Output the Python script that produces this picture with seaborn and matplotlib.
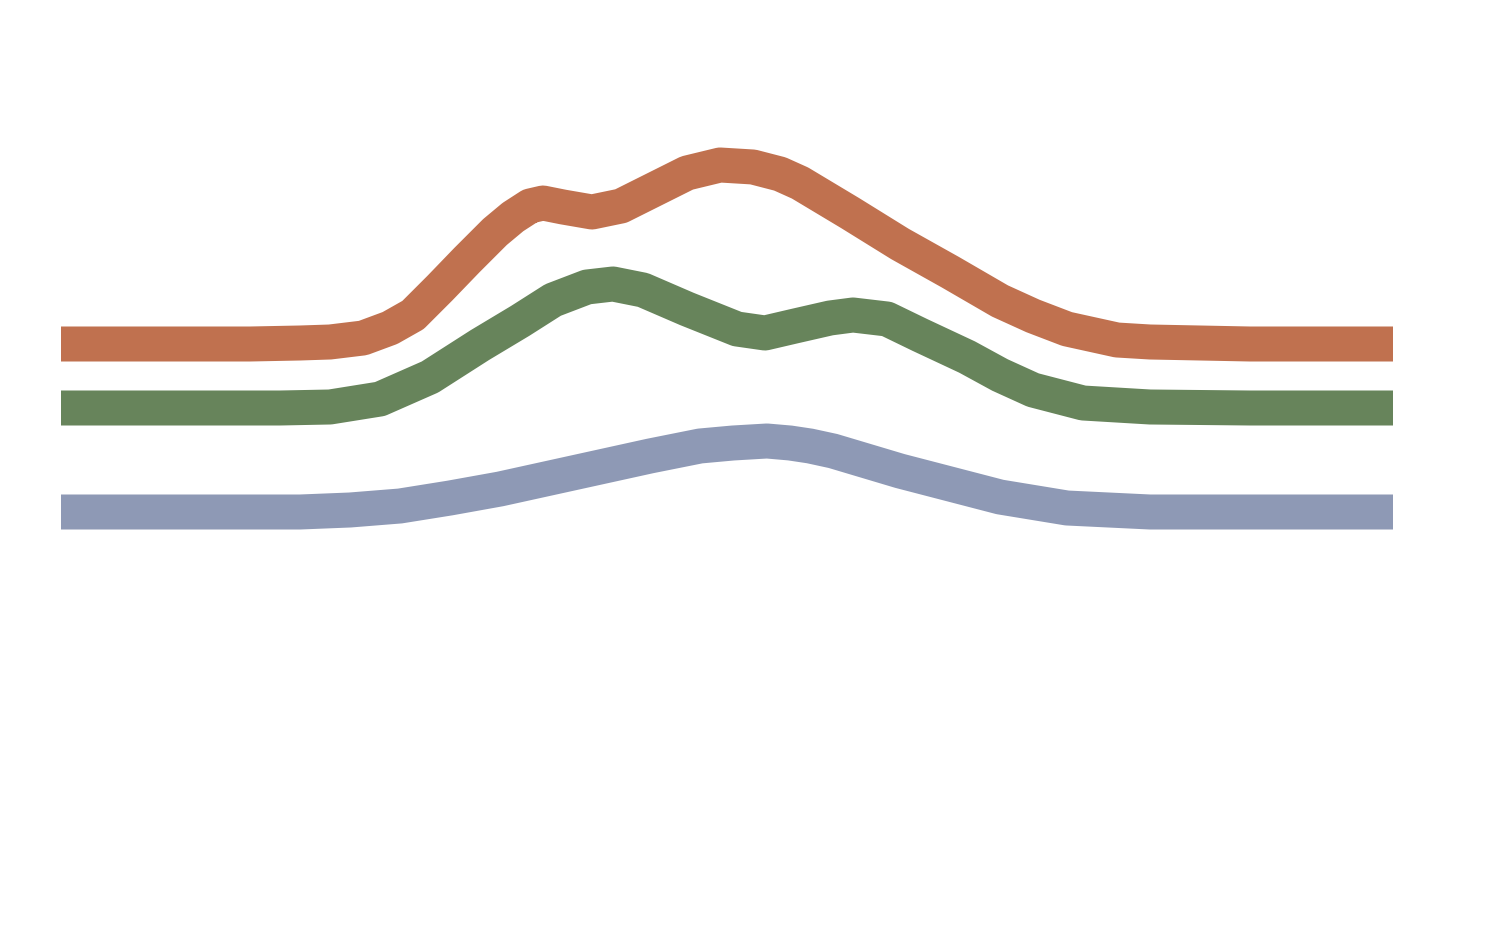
import numpy as np
import pandas as pd
import matplotlib
matplotlib.use('Agg')
import matplotlib.pyplot as plt
import seaborn as sns

# ==============================================
# DATA (x = step, y = level)
# ==============================================

orange_x = [61, 150, 250, 300, 330, 363, 390, 413, 440, 467, 495, 513, 530, 543, 563,
            592, 621, 653, 687, 720, 753, 780, 800, 850, 900, 950, 1000, 1033, 1067,
            1117, 1150, 1250, 1393]
orange_y = [344, 344, 344, 343, 342, 338, 328, 315, 288, 260, 232, 217, 206, 203, 207,
            212, 206, 190, 173, 165, 167, 174, 183, 213, 244, 272, 301, 316, 329,
            340, 342, 344, 344]

green_x = [61, 200, 280, 330, 380, 430, 480, 520, 553, 587, 613, 643, 687, 737, 765,
           795, 830, 853, 887, 920, 967, 1000, 1033, 1083, 1150, 1250, 1393]
green_y = [408, 408, 408, 407, 399, 377, 345, 321, 300, 287, 284, 290, 309, 329, 333,
           326, 318, 315, 319, 335, 357, 375, 390, 403, 407, 408, 408]

blue_x = [61, 200, 300, 350, 400, 450, 500, 550, 600, 650, 700, 733, 767, 790, 810,
          833, 900, 950, 1000, 1067, 1150, 1250, 1393]
blue_y = [512, 512, 512, 510, 506, 498, 489, 478, 467, 456, 446, 443, 441, 443, 446,
          451, 471, 484, 497, 508, 512, 512, 512]

series = [
    ('orange', orange_x, orange_y, '#C0714F'),
    ('green', green_x, green_y, '#67845B'),
    ('blue', blue_x, blue_y, '#8E99B5'),
]

H = 925

sns.set_theme(style='white')

fig = plt.figure(figsize=(15, 9.25), dpi=100)
ax = fig.add_axes([0, 0, 1, 1])

for name, xs, ys, color in series:
    df = pd.DataFrame({'step': np.array(xs) - 61, 'level': H - np.array(ys)})
    sns.lineplot(data=df, x='step', y='level', ax=ax, color=color,
                 linewidth=25.2, sort=False, solid_capstyle='butt',
                 solid_joinstyle='round')

ax.set_xlim(-61, 1500 - 61)
ax.set_ylim(0, H)
ax.axis('off')

plt.savefig('out.png', dpi=100)
